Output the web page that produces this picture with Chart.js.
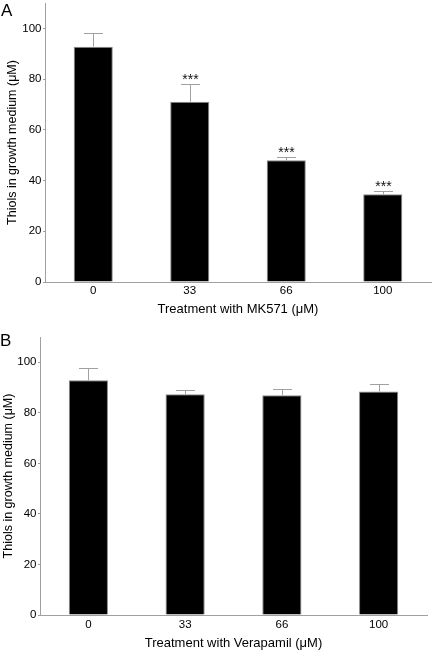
<!DOCTYPE html>
<html>
<head>
<meta charset="utf-8">
<script src="https://cdn.jsdelivr.net/npm/chart.js@4"></script>
<style>
  html, body { margin: 0; padding: 0; background: #fff; }
  body { width: 432px; height: 660px; position: relative; overflow: hidden; font-family: "Liberation Sans", Arial, sans-serif; }
  .panel { position: absolute; left: 0; width: 432px; height: 330px; }
  .tag { position: absolute; font-size: 17px; color: #000; line-height: 1; }
</style>
</head>
<body>
<div class="panel" style="top:0"><canvas id="chartA" width="432" height="330"></canvas></div>
<div class="panel" style="top:330px"><canvas id="chartB" width="432" height="330"></canvas></div>
<div class="tag" style="left:1px; top:2px">A</div>
<div class="tag" style="left:0px; top:332px">B</div>
<script>
const categories = ['0', '33', '66', '100'];
const yTicks = [0, 20, 40, 60, 80, 100];
const mk571Means = [92.8, 71.1, 48.0, 34.6];
const mk571Errors = [5.2, 7.0, 1.2, 1.1];
const mk571Sig = ['', '***', '***', '***'];
const verapamilMeans = [92.9, 87.3, 87.0, 88.4];
const verapamilErrors = [5.0, 1.9, 2.6, 2.9];
const verapamilSig = ['', '', '', ''];

const FONT = '"Liberation Sans", Arial, sans-serif';
const AXIS_GREY = '#a0a0a0';

const errorBarPlugin = {
  id: 'errorBars',
  afterDatasetsDraw(chart, args, opts) {
    const ctx = chart.ctx;
    const meta = chart.getDatasetMeta(0);
    const yScale = chart.scales.y;
    const ds = chart.data.datasets[0];
    ctx.save();
    meta.data.forEach((bar, i) => {
      const v = ds.data[i];
      const e = opts.errors[i];
      const x = Math.round(bar.x) + 0.5;
      const yTop = Math.round(yScale.getPixelForValue(v + e)) + 0.5;
      const yBar = yScale.getPixelForValue(v);
      ctx.strokeStyle = AXIS_GREY;
      ctx.lineWidth = 1;
      ctx.beginPath();
      ctx.moveTo(x, yBar);
      ctx.lineTo(x, yTop);
      ctx.moveTo(x - 9.5, yTop);
      ctx.lineTo(x + 9.5, yTop);
      ctx.stroke();
      const s = opts.sig[i];
      if (s) {
        ctx.fillStyle = '#111';
        ctx.font = '14px ' + FONT;
        ctx.textAlign = 'center';
        ctx.textBaseline = 'alphabetic';
        ctx.fillText(s, x, yTop - 1);
      }
    });
    ctx.restore();
  }
};

function makeChart(id, means, errors, sig, xTitle, L) {
  return new Chart(document.getElementById(id), {
    type: 'bar',
    data: {
      labels: categories,
      datasets: [{
        data: means,
        backgroundColor: '#000',
        borderColor: '#8a8a8a',
        borderWidth: 1,
        categoryPercentage: 1,
        barPercentage: 0.405
      }]
    },
    plugins: [errorBarPlugin],
    options: {
      responsive: false,
      animation: false,
      devicePixelRatio: 1,
      layout: { padding: { left: 0, right: L.right, top: L.top, bottom: 0 } },
      plugins: {
        legend: { display: false },
        tooltip: { enabled: false },
        title: { display: false },
        errorBars: { errors: errors, sig: sig }
      },
      scales: {
        x: {
          grid: { display: false, drawTicks: false },
          border: { display: true, color: AXIS_GREY, width: 1 },
          ticks: { color: '#000', padding: L.xTickPad, font: { family: FONT, size: 11.5 } },
          title: {
            display: true,
            text: xTitle,
            color: '#000',
            font: { family: FONT, size: 13 },
            padding: { top: 0, bottom: L.xTitlePad }
          },
          afterFit(scale) { scale.height = L.xHeight; scale.paddingLeft = 0; scale.paddingRight = 0; }
        },
        y: {
          min: 0,
          max: 110,
          grid: { drawOnChartArea: false, drawTicks: true, tickLength: 2, color: AXIS_GREY },
          border: { display: true, color: AXIS_GREY, width: 1 },
          ticks: { color: '#000', padding: 1.5, font: { family: FONT, size: 11.5 } },
          afterBuildTicks(scale) { scale.ticks = yTicks.map(v => ({ value: v })); },
          title: {
            display: true,
            text: 'Thiols in growth medium (μM)',
            color: '#000',
            font: { family: FONT, size: 12.5 },
            padding: { top: L.yTitlePad, bottom: 0 }
          },
          afterFit(scale) { scale.width = L.yWidth; scale.paddingTop = 0; scale.paddingBottom = 0; }
        }
      }
    }
  });
}

makeChart('chartA', mk571Means, mk571Errors, mk571Sig, 'Treatment with MK571 (μM)',
  { right: 1, top: 3, yWidth: 45, xHeight: 48, xTickPad: 2, xTitlePad: 13, yTitlePad: 5 });
makeChart('chartB', verapamilMeans, verapamilErrors, verapamilSig, 'Treatment with Verapamil (μM)',
  { right: 5, top: 7, yWidth: 40, xHeight: 45, xTickPad: 3, xTitlePad: 9, yTitlePad: 1 });
</script>
</body>
</html>
